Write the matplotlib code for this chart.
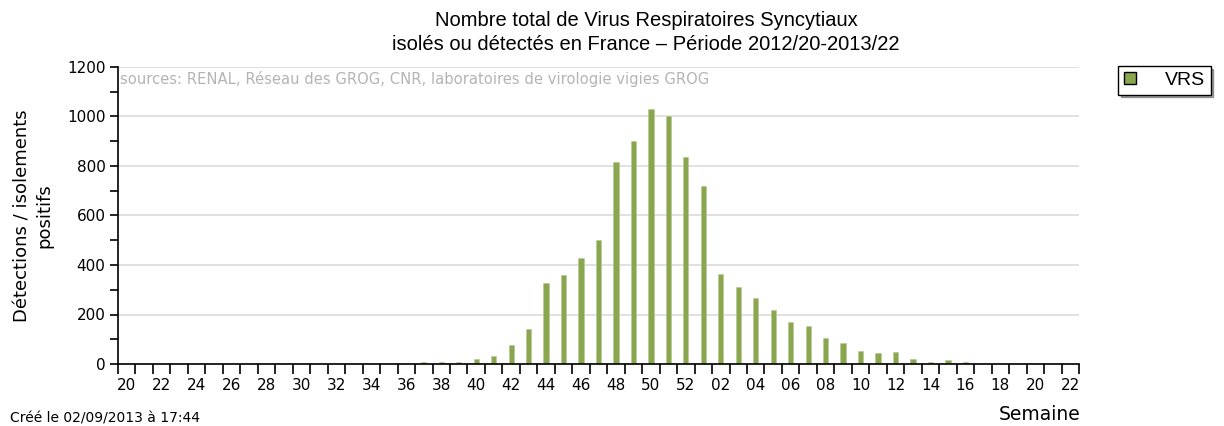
import matplotlib
matplotlib.use("Agg")
import matplotlib.pyplot as plt
from matplotlib.patches import Patch
import numpy as np

plt.rcParams['font.family'] = ['DejaVu Sans']

weeks = [20, 21, 22, 23, 24, 25, 26, 27, 28, 29, 30, 31, 32, 33, 34, 35, 36,
         37, 38, 39, 40, 41, 42, 43, 44, 45, 46, 47, 48, 49, 50, 51, 52,
         1, 2, 3, 4, 5, 6, 7, 8, 9, 10, 11, 12, 13, 14, 15, 16,
         17, 18, 19, 20, 21, 22]
vrs = [0, 0, 0, 0, 0, 0, 0, 0, 0, 0, 0, 0, 0, 0, 0, 0, 0,
       9, 9, 9, 20, 33, 75, 142, 327, 360, 430, 500, 815, 900, 1030, 1002, 838,
       720, 362, 313, 265, 218, 170, 155, 107, 85, 52, 45, 50, 22, 9, 16, 9,
       0, 0, 0, 0, 0, 0]
week_labels = ["%02d" % w for w in weeks]

title = "Nombre total de Virus Respiratoires Syncytiaux\nisolés ou détectés en France – Période 2012/20-2013/22"
ylabel = "Détections / isolements\npositifs"
sources = "sources: RENAL, Réseau des GROG, CNR, laboratoires de virologie vigies GROG"
created = "Créé le 02/09/2013 à 17:44"

fig = plt.figure(figsize=(12.24, 4.26), dpi=100)
ax = fig.add_axes([118/1224, 1-364/426, (1079-118)/1224, (364-67)/426])

x = np.arange(len(weeks))
ax.bar(x, vrs, width=0.3, color="#8aa64f", edgecolor="#b5c98f", linewidth=0.4, zorder=3)

ax.set_xlim(-0.5, len(weeks) - 0.5)
ax.set_ylim(0, 1200)

# x ticks: marks at week boundaries, labels at every other week centre
ax.set_xticks(np.arange(-0.5, len(weeks) + 0.5, 1.0))
ax.set_xticklabels([])
ax.set_xticks(x[::2], minor=True)
ax.set_xticklabels(week_labels[::2], minor=True)
ax.tick_params(axis='x', which='major', length=7, width=1.2, color='black', direction='out')
ax.tick_params(axis='x', which='minor', length=0, labelsize=11, pad=10)

ax.set_yticks(np.arange(0, 1201, 200))
ax.set_yticks(np.arange(100, 1200, 200), minor=True)
ax.tick_params(axis='y', which='major', length=6, width=1.2, labelsize=11, pad=3)
ax.tick_params(axis='y', which='minor', length=6, width=1.2)

ax.grid(axis='y', which='major', color='#dcdcdc', linewidth=1.2, zorder=0)
for s in ['top', 'right']:
    ax.spines[s].set_visible(False)
for s in ['left', 'bottom']:
    ax.spines[s].set_linewidth(1.2)
    ax.spines[s].set_zorder(4)

ax.set_ylabel(ylabel, fontsize=13, labelpad=10, linespacing=1.25)

fig.text(646/1224, 1-11/426, title, ha='center', va='top', fontsize=14.5,
         linespacing=1.3, family='Liberation Sans')
ax.text(0.002, 0.985, sources, transform=ax.transAxes, ha='left', va='top',
        fontsize=10.6, color='#b4b4b4')
fig.text(10/1224, 1-418/426, created, ha='left', va='center', fontsize=10)
fig.text(1080/1224, 1-415/426, "Semaine", ha='right', va='center', fontsize=13.5)

leg = fig.legend(handles=[Patch(facecolor="#8aa64f", edgecolor='black', label='VRS')],
                 loc='upper left', bbox_to_anchor=(1118/1224, 1-66/426),
                 prop={'family': 'Liberation Sans', 'size': 14},
                 frameon=True, fancybox=False, shadow=True,
                 handlelength=0.6, handleheight=0.6, borderpad=0.3, handletextpad=1.5,
                 borderaxespad=0)
leg.get_frame().set_edgecolor('black')
leg.get_frame().set_linewidth(1.0)

fig.savefig("out.png", dpi=100)
